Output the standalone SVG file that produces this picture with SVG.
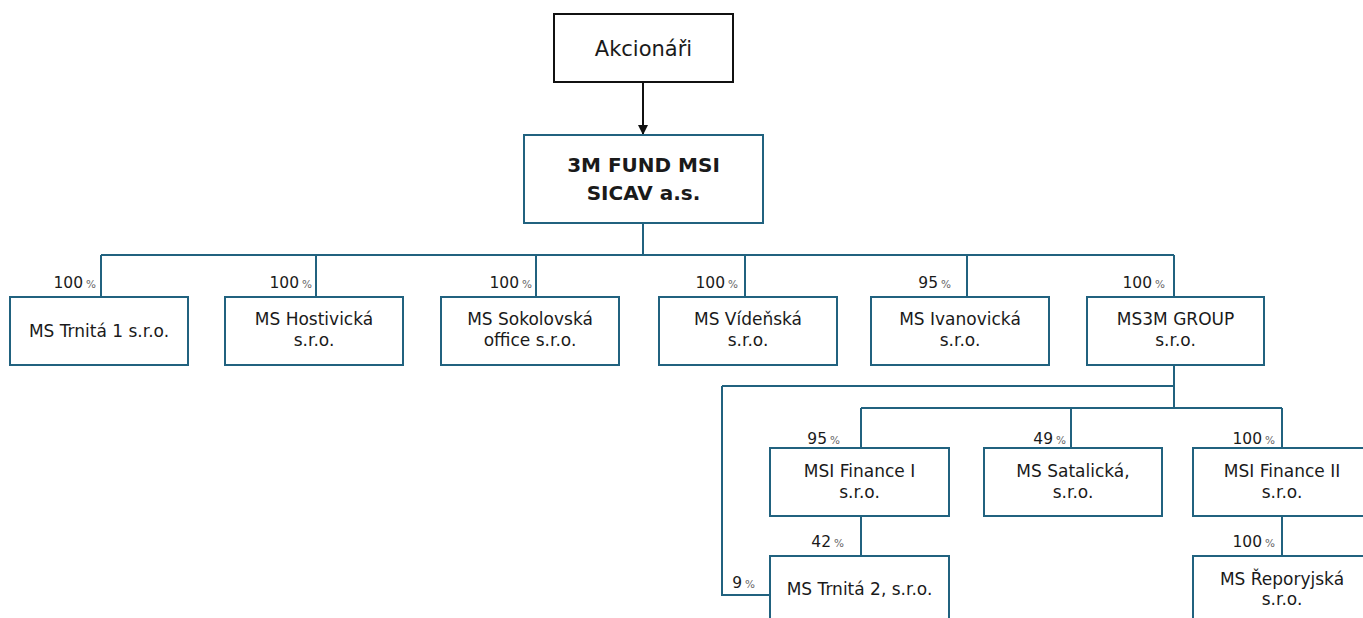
<svg xmlns="http://www.w3.org/2000/svg" width="1363" height="618" viewBox="0 0 1363 618">
<style>
.bx{fill:#fff;stroke:#21627f;stroke-width:2}
.bk{fill:#fff;stroke:#111;stroke-width:2}
.ln{fill:none;stroke:#21627f;stroke-width:2}
.t{font-family:"DejaVu Sans",sans-serif;font-size:17px;fill:#1a1a1a;text-anchor:middle}
.tb{font-family:"DejaVu Sans",sans-serif;font-size:20px;font-weight:bold;fill:#1a1a1a;text-anchor:middle}
.p{font-family:"DejaVu Sans",sans-serif;font-size:15.5px;fill:#1a1a1a;text-anchor:end}
.p tspan{font-size:10.5px;fill:#666}
</style>
<defs>
<marker id="ah" markerWidth="10" markerHeight="10" refX="9" refY="5" orient="auto" markerUnits="userSpaceOnUse">
<path d="M0,0 L10,5 L0,10 Z" fill="#111"/>
</marker>
</defs>
<g id="connectors">
<line x1="643" y1="82" x2="643" y2="134" stroke="#111" stroke-width="2" marker-end="url(#ah)"/>
<path class="ln" d="M643,223 V255 M101,255 H1174 M101,255 V297 M316,255 V297 M536,255 V297 M745,255 V297 M967,255 V297 M1174,255 V297"/>
<path class="ln" d="M1174,365 V408 M722,386 H1174 M861,408 H1282 M861,408 V448 M1071,408 V448 M1282,408 V448"/>
<path class="ln" d="M861,516 V556 M1282,516 V556 M722,386 V595 H770"/>
</g>
<g id="akcionari"><rect class="bk" x="554" y="14" width="179" height="68"/><text class="t" style="font-size:21px" x="643.5" y="56">Akcionáři</text></g>
<g id="fund"><rect class="bx" x="524" y="135" width="239" height="88"/><text class="tb" x="643.5" y="172">3M FUND MSI</text><text class="tb" x="643.5" y="200">SICAV a.s.</text></g>
<g id="trnita1"><rect class="bx" x="10" y="297" width="178" height="68"/><text class="t" x="99" y="337">MS Trnitá 1 s.r.o.</text></g>
<g id="hostivicka"><rect class="bx" x="225" y="297" width="178" height="68"/><text class="t" x="314" y="325">MS Hostivická</text><text class="t" x="314" y="346">s.r.o.</text></g>
<g id="sokolovska"><rect class="bx" x="441" y="297" width="178" height="68"/><text class="t" x="530" y="325">MS Sokolovská</text><text class="t" x="530" y="346">office s.r.o.</text></g>
<g id="videnska"><rect class="bx" x="659" y="297" width="178" height="68"/><text class="t" x="748" y="325">MS Vídeňská</text><text class="t" x="748" y="346">s.r.o.</text></g>
<g id="ivanovicka"><rect class="bx" x="871" y="297" width="178" height="68"/><text class="t" x="960" y="325">MS Ivanovická</text><text class="t" x="960" y="346">s.r.o.</text></g>
<g id="ms3m"><rect class="bx" x="1087" y="297" width="177" height="68"/><text class="t" x="1175.5" y="325">MS3M GROUP</text><text class="t" x="1175.5" y="346">s.r.o.</text></g>
<g id="finance1"><rect class="bx" x="770" y="448" width="179" height="68"/><text class="t" x="859.5" y="477">MSI Finance I</text><text class="t" x="859.5" y="498">s.r.o.</text></g>
<g id="satalicka"><rect class="bx" x="984" y="448" width="178" height="68"/><text class="t" x="1073" y="477">MS Satalická,</text><text class="t" x="1073" y="498">s.r.o.</text></g>
<g id="finance2"><rect class="bx" x="1193" y="448" width="178" height="68"/><text class="t" x="1282" y="477">MSI Finance II</text><text class="t" x="1282" y="498">s.r.o.</text></g>
<g id="trnita2"><rect class="bx" x="770" y="556" width="179" height="68"/><text class="t" x="859.5" y="595">MS Trnitá 2, s.r.o.</text></g>
<g id="reporyjska"><rect class="bx" x="1193" y="556" width="178" height="68"/><text class="t" x="1282" y="585">MS Řeporyjská</text><text class="t" x="1282" y="605">s.r.o.</text></g>
<g id="labels">
<text class="p" x="96" y="288">100<tspan dx="3">%</tspan></text>
<text class="p" x="312" y="288">100<tspan dx="3">%</tspan></text>
<text class="p" x="532" y="288">100<tspan dx="3">%</tspan></text>
<text class="p" x="738" y="288">100<tspan dx="3">%</tspan></text>
<text class="p" x="951" y="288">95<tspan dx="3">%</tspan></text>
<text class="p" x="1165" y="288">100<tspan dx="3">%</tspan></text>
<text class="p" x="840" y="444">95<tspan dx="3">%</tspan></text>
<text class="p" x="1066" y="444">49<tspan dx="3">%</tspan></text>
<text class="p" x="1275" y="444">100<tspan dx="3">%</tspan></text>
<text class="p" x="844" y="547">42<tspan dx="3">%</tspan></text>
<text class="p" x="1275" y="547">100<tspan dx="3">%</tspan></text>
<text class="p" x="755" y="588">9<tspan dx="3">%</tspan></text>
</g>
</svg>
